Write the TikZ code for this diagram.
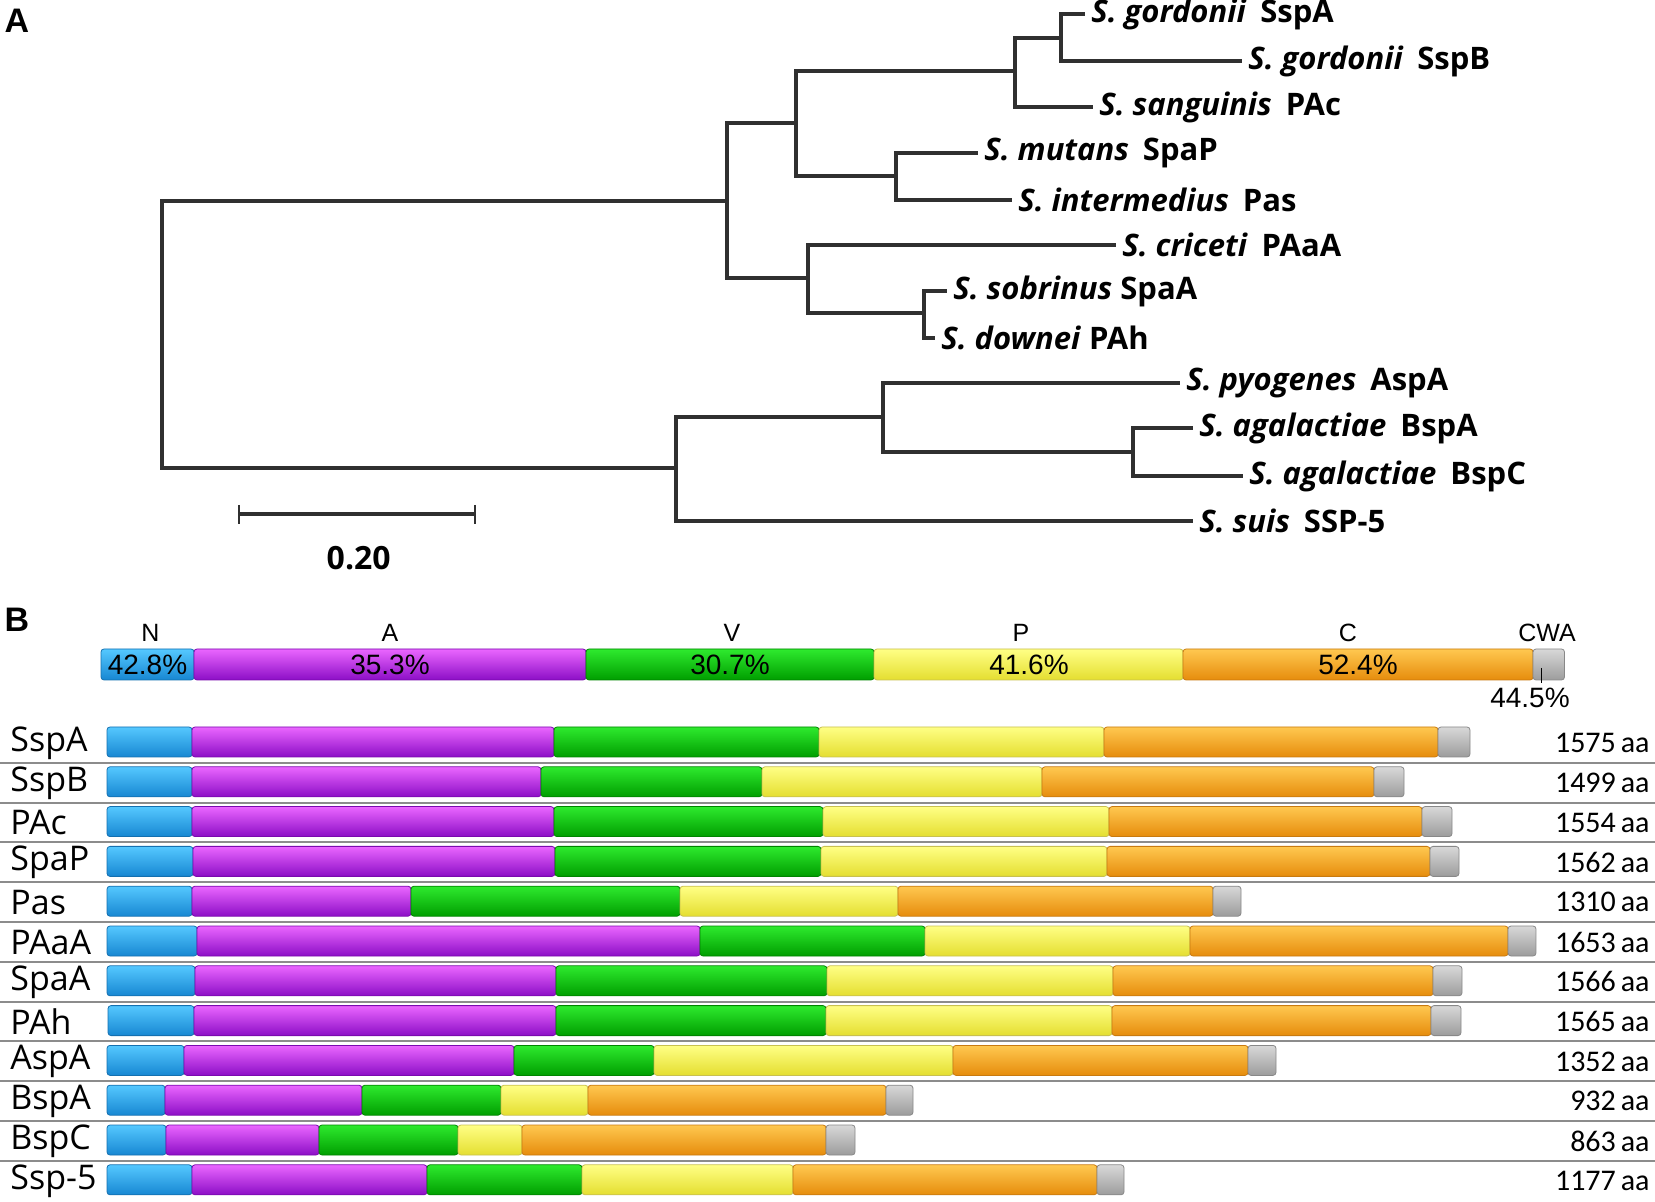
\documentclass[tikz,border=0pt]{standalone}
\usepackage{fontspec}
\setmainfont{Open Sans}
\newfontfamily\lenfont{Carlito}
\newfontfamily\hdrfont{Liberation Sans}
\usetikzlibrary{positioning}

\definecolor{treegray}{HTML}{303030}
\definecolor{sepgray}{HTML}{8C8C8C}
\definecolor{nTop}{HTML}{55C8FF}\definecolor{nBot}{HTML}{1787D2}\definecolor{nLine}{HTML}{1470B0}
\definecolor{aTop}{HTML}{EA66FF}\definecolor{aBot}{HTML}{8C0EC6}\definecolor{aLine}{HTML}{7A0AAE}
\definecolor{vTop}{HTML}{2EEA2E}\definecolor{vBot}{HTML}{009E00}\definecolor{vLine}{HTML}{008400}
\definecolor{pTop}{HTML}{FFFF85}\definecolor{pBot}{HTML}{E4DE30}\definecolor{pLine}{HTML}{C8C050}
\definecolor{cTop}{HTML}{FFC850}\definecolor{cBot}{HTML}{E68C0C}\definecolor{cLine}{HTML}{C87A10}
\definecolor{wTop}{HTML}{D8D8D8}\definecolor{wBot}{HTML}{9C9C9C}\definecolor{wLine}{HTML}{888888}

\tikzset{
  branch/.style={draw=treegray, line width=1.6pt},
  leaf/.style={anchor=west, inner sep=3pt, font=\fontsize{15.5}{18}\selectfont\bfseries},
  panel/.style={font=\hdrfont\fontsize{17}{20}\selectfont\bfseries},
  seg/.style={rounded corners=1.5pt, line width=0.4pt},
  segN/.style={seg, top color=nTop, bottom color=nBot, draw=nLine},
  segA/.style={seg, top color=aTop, bottom color=aBot, draw=aLine},
  segV/.style={seg, top color=vTop, bottom color=vBot, draw=vLine},
  segP/.style={seg, top color=pTop, bottom color=pBot, draw=pLine},
  segC/.style={seg, top color=cTop, bottom color=cBot, draw=cLine},
  segW/.style={seg, top color=wTop, bottom color=wBot, draw=wLine},
  hdr/.style={font=\hdrfont\fontsize{12.5}{14}\selectfont, inner sep=0pt},
  pct/.style={font=\hdrfont\fontsize{14}{16}\selectfont, inner sep=0pt},
  rowlab/.style={anchor=west, inner sep=0pt, font=\fontsize{17}{20}\selectfont},
  lenlab/.style={anchor=east, inner sep=0pt, font=\lenfont\fontsize{15}{18}\selectfont},
  sepline/.style={draw=sepgray, line width=1pt}
}

\begin{document}
\begin{tikzpicture}[x=0.5pt,y=-0.5pt]
  \useasboundingbox (0,0) rectangle (1655,1202);

  % panel A: tree
  \node[panel] (labA) at (17,21) {A};

  \coordinate (root) at (162,334.5);
  \coordinate (n1) at (727,201);
  \coordinate (n2) at (796,123);
  \coordinate (n3) at (1015,71);
  \coordinate (n4) at (1061,38);
  \coordinate (n5) at (896,176);
  \coordinate (n6) at (808,278);
  \coordinate (n7) at (924,313);
  \coordinate (n8) at (676,468);
  \coordinate (n9) at (883,417);
  \coordinate (n10) at (1133,452);

  \coordinate (tSspA) at (1085,14);
  \coordinate (tSspB) at (1242,61);
  \coordinate (tPAc) at (1093,107);
  \coordinate (tSpaP) at (978,153);
  \coordinate (tPas) at (1012,200);
  \coordinate (tPAaA) at (1116,245);
  \coordinate (tSpaA) at (947,291);
  \coordinate (tPAh) at (935,338);
  \coordinate (tAspA) at (1180,383);
  \coordinate (tBspA) at (1193,428);
  \coordinate (tBspC) at (1243,476);
  \coordinate (tSSP) at (1193,521);

  \draw[branch] (root) |- (n1);
  \draw[branch] (root) |- (n8);
  \draw[branch] (n1) |- (n2);
  \draw[branch] (n1) |- (n6);
  \draw[branch] (n2) |- (n3);
  \draw[branch] (n2) |- (n5);
  \draw[branch] (n3) |- (n4);
  \draw[branch] (n3) |- (tPAc);
  \draw[branch] (n4) |- (tSspA);
  \draw[branch] (n4) |- (tSspB);
  \draw[branch] (n5) |- (tSpaP);
  \draw[branch] (n5) |- (tPas);
  \draw[branch] (n6) |- (tPAaA);
  \draw[branch] (n6) |- (n7);
  \draw[branch] (n7) |- (tSpaA);
  \draw[branch] (n7) |- (tPAh);
  \draw[branch] (n8) |- (n9);
  \draw[branch] (n8) |- (tSSP);
  \draw[branch] (n9) |- (tAspA);
  \draw[branch] (n9) |- (n10);
  \draw[branch] (n10) |- (tBspA);
  \draw[branch] (n10) |- (tBspC);

  \node[leaf] (lSspA) at (tSspA) {\textit{S. gordonii}\hspace{0.45em}SspA};
  \node[leaf] (lSspB) at (tSspB) {\textit{S. gordonii}\hspace{0.45em}SspB};
  \node[leaf] (lPAc) at (tPAc) {\textit{S. sanguinis}\hspace{0.45em}PAc};
  \node[leaf] (lSpaP) at (tSpaP) {\textit{S. mutans}\hspace{0.45em}SpaP};
  \node[leaf] (lPas) at (tPas) {\textit{S. intermedius}\hspace{0.45em}Pas};
  \node[leaf] (lPAaA) at (tPAaA) {\textit{S. criceti}\hspace{0.45em}PAaA};
  \node[leaf] (lSpaA) at (tSpaA) {\textit{S. sobrinus} SpaA};
  \node[leaf] (lPAh) at (tPAh) {\textit{S. downei} PAh};
  \node[leaf] (lAspA) at (tAspA) {\textit{S. pyogenes}\hspace{0.45em}AspA};
  \node[leaf] (lBspA) at (tBspA) {\textit{S. agalactiae}\hspace{0.45em}BspA};
  \node[leaf] (lBspC) at (tBspC) {\textit{S. agalactiae}\hspace{0.45em}BspC};
  \node[leaf] (lSSP) at (tSSP) {\textit{S. suis}\hspace{0.45em}SSP-5};

  % scale bar
  \coordinate (sbL) at (239,514);
  \coordinate (sbR) at (474.5,514);
  \draw[branch] (sbL) -- (sbR);
  \draw[branch, line width=1pt] (sbL) ++(0,-9) -- ++(0,19);
  \draw[branch, line width=1pt] (sbR) ++(0,-9) -- ++(0,19);
  \node[font=\fontsize{16}{18}\selectfont\bfseries] (sbText) at (358.7,558) {0.20};

  % panel B: domains
  \node[panel] (labB) at (17,620) {B};

  \draw[segN] (101,649) rectangle (194,680);
  \draw[segA] (194,649) rectangle (586,680);
  \draw[segV] (586,649) rectangle (874,680);
  \draw[segP] (874,649) rectangle (1183,680);
  \draw[segC] (1183,649) rectangle (1533,680);
  \draw[segW] (1533,649) rectangle (1564.5,680);
  \draw[line width=0.8pt] (1541.6,668) -- (1541.6,683);

  \node[hdr] (hN) at (150.5,633) {N};
  \node[hdr] (hA) at (390,633) {A};
  \node[hdr] (hV) at (732,633) {V};
  \node[hdr] (hP) at (1021,633) {P};
  \node[hdr] (hC) at (1348,633) {C};
  \node[hdr] (hW) at (1547,633) {CWA};

  \node[pct] (pN) at (147.5,665) {42.8\%};
  \node[pct] (pA) at (390,665) {35.3\%};
  \node[pct] (pV) at (730,665) {30.7\%};
  \node[pct] (pP) at (1029,665) {41.6\%};
  \node[pct] (pC) at (1358,665) {52.4\%};
  \node[pct] (pW) at (1530,698) {44.5\%};

  \foreach \i in {1,...,11} {
    \pgfmathsetmacro\ys{727+39.8*\i-4}
    \draw[sepline] (0,\ys) -- (1655,\ys);
  }

  \foreach \nm/\xa/\xb/\xc/\xd/\xe/\xf/\xg/\len [count=\i from 0] in {
      SspA/107/192/554/819/1104/1438/1470/1575,
      SspB/107/192/541/762/1042/1374/1404/1499,
      PAc/107/192/554/823/1109/1422/1452/1554,
      SpaP/107/193/555/821/1107/1430/1459/1562,
      Pas/107/192/411/680/898/1213/1241/1310,
      PAaA/107/197/700/925/1190/1508/1536/1653,
      SpaA/107/195/556/827/1113/1433/1462/1566,
      PAh/108/194/556/826/1112/1431/1461/1565,
      AspA/107/184/514/654/953/1248/1276/1352,
      BspA/107/165/362/501/588/886/913/932,
      BspC/107/166/319/458/522/826/855/863,
      Ssp-5/107/192/427/582/793/1097/1124/1177} {
    \pgfmathsetmacro\yt{727+39.8*\i}
    \pgfmathsetmacro\yb{\yt+30}
    \draw[segN] (\xa,\yt) rectangle (\xb,\yb);
    \draw[segA] (\xb,\yt) rectangle (\xc,\yb);
    \draw[segV] (\xc,\yt) rectangle (\xd,\yb);
    \draw[segP] (\xd,\yt) rectangle (\xe,\yb);
    \draw[segC] (\xe,\yt) rectangle (\xf,\yb);
    \draw[segW] (\xf,\yt) rectangle (\xg,\yb);
    \node[rowlab] (row\i) at (10,\yt+16) {\nm};
    \node[lenlab] (len\i) at (1650,\yt+16) {\len\,aa};
  }

\end{tikzpicture}
\end{document}
